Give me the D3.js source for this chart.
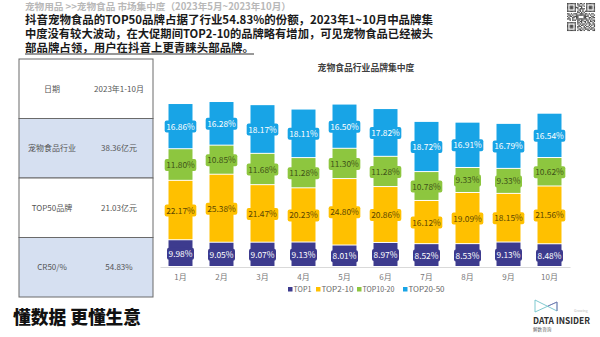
<!DOCTYPE html>
<html>
<head>
<meta charset="utf-8">
<script src="https://cdn.jsdelivr.net/npm/d3@7/dist/d3.min.js"></script>
<style>
  html, body { margin: 0; padding: 0; background: #fff; }
  svg { display: block; }
  text { font-family: "Noto Sans CJK SC", "Noto Sans", sans-serif; }
</style>
</head>
<body>
<svg id="chart" width="600" height="337"></svg>
<script>
// ---- data ----
const months = ["1月", "2月", "3月", "4月", "5月", "6月", "7月", "8月", "9月", "10月"];
const seriesNames = ["TOP1", "TOP2-10", "TOP10-20", "TOP20-50"];
const top1     = [9.98, 9.05, 9.07, 9.13, 8.01, 8.97, 8.52, 8.53, 9.13, 8.48];
const top2to10 = [22.17, 25.38, 21.47, 20.23, 24.80, 20.86, 16.12, 19.09, 18.15, 21.56];
const top10to20 = [11.80, 10.85, 11.68, 11.28, 11.30, 11.28, 10.78, 9.33, 9.33, 10.62];
const top20to50 = [16.86, 16.28, 18.17, 18.11, 16.50, 17.82, 18.72, 16.91, 16.79, 16.54];

const tableRows = [
  ["日期", "2023年1-10月"],
  ["宠物食品行业", "38.36亿元"],
  ["TOP50品牌", "21.03亿元"],
  ["CR50/%", "54.83%"]
];

const headerCrumb = "宠物用品 >>宠物食品 市场集中度（2023年5月~2023年10月）";
const headerLines = [
  "抖音宠物食品的TOP50品牌占据了行业54.83%的份额，2023年1~10月中品牌集",
  "中度没有较大波动，在大促期间TOP2-10的品牌略有增加，可见宠物食品已经被头",
  "部品牌占领，用户在抖音上更青睐头部品牌。"
];
const chartTitle = "宠物食品行业品牌集中度";
const slogan = "懂数据 更懂生意";

// ---- styling ----
const colors = ["#3d3b8e", "#ffc000", "#8dc63f", "#18a4e6"];
const labelInk = ["#ffffff", "#5c4700", "#3f5318", "#ffffff"];

const svg = d3.select("#chart");

// ---- header: breadcrumb plus a three-line summary, one text block ----
const header = svg.append("text").attr("x", 25).attr("font-weight", 700);
header.append("tspan").attr("x", 25).attr("y", 10)
  .attr("font-size", 9.6).attr("fill", "#b8b8b8")
  .text(headerCrumb);
const headerBase = [24, 38, 51.5];
const headerWidths = [408, 408, 229];
headerLines.forEach((t, i) => {
  header.append("tspan").attr("x", 25).attr("y", headerBase[i])
    .attr("font-size", 11.6).attr("fill", "#1a1a1a")
    .attr("textLength", headerWidths[i]).attr("lengthAdjust", "spacingAndGlyphs")
    .text(t);
});
svg.append("line").attr("x1", 25).attr("x2", 254).attr("y1", 54).attr("y2", 54)
  .attr("stroke", "#333").attr("stroke-width", 1);

// ---- summary table ----
const tbl = { x: 19, y: 59, w: 134, rowH: 59.5 };
const rowY = d3.scaleBand().domain(d3.range(tableRows.length))
  .range([tbl.y, tbl.y + tbl.rowH * tableRows.length]);
const tg = svg.append("g");
tg.selectAll("rect.row").data(tableRows).join("rect")
  .attr("class", "row")
  .attr("x", tbl.x).attr("y", (d, i) => rowY(i))
  .attr("width", tbl.w).attr("height", rowY.bandwidth())
  .attr("fill", (d, i) => i % 2 ? "#d6e0f1" : "#ffffff")
  .attr("stroke", "#6a6a6a").attr("stroke-width", 1);
tg.selectAll("text.c1").data(tableRows).join("text")
  .attr("x", 52).attr("y", (d, i) => rowY(i) + rowY.bandwidth() / 2 + 3)
  .attr("text-anchor", "middle").attr("font-size", 8).attr("fill", "#555")
  .text(d => d[0]);
tg.selectAll("text.c2").data(tableRows).join("text")
  .attr("x", 119).attr("y", (d, i) => rowY(i) + rowY.bandwidth() / 2 + 3)
  .attr("text-anchor", "middle").attr("font-size", 8).attr("fill", "#555")
  .text(d => d[1]);

// ---- stacked bar chart ----
const x = d3.scaleBand().domain(months).range([160, 570]).paddingInner(0.415).paddingOuter(0.2075);
const y = d3.scaleLinear().domain([0, 70]).range([267, 79.4]);

const rows = months.map((m, i) => ({
  month: m, "TOP1": top1[i], "TOP2-10": top2to10[i], "TOP10-20": top10to20[i], "TOP20-50": top20to50[i]
}));
const stacked = d3.stack().keys(seriesNames)(rows);

svg.append("text").attr("x", 366).attr("y", 70.5).attr("text-anchor", "middle")
  .attr("font-size", 8.8).attr("font-weight", 700).attr("fill", "#404040")
  .text(chartTitle);

const bars = svg.append("g");
stacked.forEach((layer, k) => {
  bars.append("g").attr("fill", colors[k])
    .selectAll("rect").data(layer).join("rect")
    .attr("x", d => x(d.data.month))
    .attr("y", d => y(d[1]))
    .attr("width", x.bandwidth())
    .attr("height", d => Math.max(0, y(d[0]) - y(d[1]) - 1));
});

// value tags
const tags = svg.append("g");
stacked.forEach((layer, k) => {
  layer.forEach(d => {
    const v = d[1] - d[0];
    const cx = x(d.data.month) + x.bandwidth() / 2;
    const cy = (y(d[0]) + y(d[1])) / 2;
    const g = tags.append("g");
    const t = g.append("text").attr("x", cx).attr("y", cy + 3)
      .attr("text-anchor", "middle").attr("font-size", 8.4).attr("fill", labelInk[k])
      .text(v.toFixed(2) + "%");
    const w = t.node().getComputedTextLength() + 3;
    g.insert("rect", "text").attr("x", cx - w / 2).attr("y", cy - 6)
      .attr("width", w).attr("height", 12).attr("rx", 2)
      .attr("fill", colors[k]);
  });
});

// x axis
const xAxis = svg.append("g").attr("transform", "translate(0,267)")
  .call(d3.axisBottom(x).tickSize(0).tickPadding(7.5));
xAxis.select(".domain").attr("stroke", "#d9d9d9");
xAxis.selectAll("text").attr("font-size", 8).attr("fill", "#777")
  .attr("font-family", "'Noto Sans CJK SC', sans-serif");

// legend
const legendX = [288, 316, 357, 403];
const legendW = [18, 32, 32, 36];
const legend = svg.append("g");
seriesNames.forEach((n, i) => {
  legend.append("rect").attr("x", legendX[i]).attr("y", 287).attr("width", 4.5).attr("height", 4.5)
    .attr("fill", colors[i]);
  legend.append("text").attr("x", legendX[i] + 5.5).attr("y", 292)
    .attr("font-size", 7.4).attr("fill", "#666")
    .attr("font-family", "'Open Sans', sans-serif")
    .attr("textLength", legendW[i]).attr("lengthAdjust", "spacingAndGlyphs")
    .text(n);
});

// ---- slogan ----
svg.append("text").attr("x", 13).attr("y", 324)
  .attr("font-size", 17.8).attr("font-weight", 900).attr("fill", "#111")
  .attr("textLength", 128).attr("lengthAdjust", "spacingAndGlyphs")
  .text(slogan);

// ---- brand mark ----
const logo = svg.append("g");
logo.append("path").attr("d", "M535,300 L557,311 L557,302 L535,312 Z")
  .attr("fill", "none").attr("stroke", "#6fc3c9").attr("stroke-width", 0.9);
logo.append("path").attr("d", "M548,306 L557,302 L557,311")
  .attr("fill", "none").attr("stroke", "#7b6fb0").attr("stroke-width", 0.9);
logo.append("text").attr("x", 574).attr("y", 312).attr("font-size", 3.5).attr("fill", "#bbb")
  .attr("font-family", "'Noto Sans', sans-serif").text("Growing");
logo.append("text").attr("x", 533).attr("y", 323.5).attr("font-size", 9.4).attr("font-weight", 600)
  .attr("fill", "#2f2f2f").attr("font-family", "'Open Sans', sans-serif")
  .attr("textLength", 57).attr("lengthAdjust", "spacingAndGlyphs").text("DATA INSIDER");
logo.append("text").attr("x", 533).attr("y", 330.5).attr("font-size", 4.6).attr("fill", "#666")
  .text("解数咨询");

// ---- QR code block ----
const qrRows = [
  "1111111010110101111111",
  "1000001011001001000001",
  "1011101001110101011101",
  "1011101110010001011101",
  "1011101010111101011101",
  "1000001001101001000001",
  "1111111010101011111111",
  "0000000011010100000000",
  "1101011100111011010110",
  "0110100111111110101001",
  "1011011110000111100110",
  "0100110110000110011011",
  "1110100111111111010100",
  "0010111011011001101011",
  "0000000010110110101101",
  "1111111011010010110010",
  "1000001010101101011011",
  "1011101001011010010101",
  "1011101011100101101001",
  "1011101010010110010110",
  "1000001001101011101101",
  "1111111010110100110011"
];
const qrCell = 28 / qrRows.length;
const qr = svg.append("g").attr("transform", "translate(567,3)");
qrRows.forEach((r, ri) => {
  r.split("").forEach((c, ci) => {
    if (c === "1") {
      qr.append("rect").attr("x", ci * qrCell).attr("y", ri * qrCell)
        .attr("width", qrCell + 0.05).attr("height", qrCell + 0.05).attr("fill", "#4a4a4a");
    }
  });
});
</script>
</body>
</html>
